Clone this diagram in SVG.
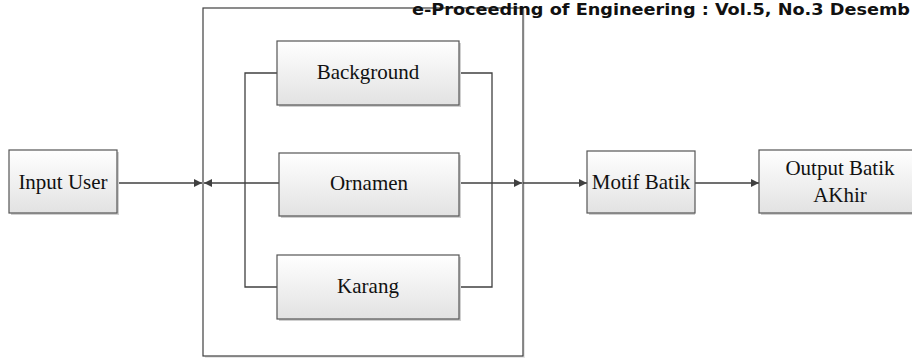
<svg xmlns="http://www.w3.org/2000/svg" width="912" height="359" viewBox="0 0 912 359">
  <defs>
    <linearGradient id="boxfill" x1="0" y1="0" x2="0" y2="1">
      <stop offset="0" stop-color="#ffffff"/>
      <stop offset="1" stop-color="#e2e2e2"/>
    </linearGradient>
    <marker id="arr" viewBox="0 0 10 10" refX="10" refY="5" markerWidth="10" markerHeight="8" markerUnits="userSpaceOnUse" orient="auto">
      <path d="M0,0 L10,5 L0,10 Z" fill="#404040"/>
    </marker>
  </defs>
  <style>
    .box { fill: url(#boxfill); stroke: #555555; stroke-width: 1.2; }
    .shadow { fill: #d0d0d0; }
    .lbl { font-family: "Liberation Serif", "Times New Roman", serif; font-size: 21px; fill: #111111; text-anchor: middle; }
    .conn { fill: none; stroke: #404040; stroke-width: 1.3; }
    .hdr { font-family: "DejaVu Sans", Verdana, sans-serif; font-weight: bold; font-size: 16px; fill: #111111; }
  </style>
  <rect width="912" height="359" fill="#ffffff"/>

  <g id="container">
    <rect x="205" y="10" width="320" height="348" fill="#e6e6e6"/>
    <rect x="203" y="8" width="320" height="348" fill="#ffffff" stroke="#404040" stroke-width="1.2"/>
  </g>

  <g id="connectors">
    <line class="conn" x1="117" y1="183" x2="202" y2="183" marker-end="url(#arr)"/>
    <line class="conn" x1="279" y1="183" x2="204" y2="183" marker-end="url(#arr)"/>
    <path class="conn" d="M277,73 H245 V287 H277"/>
    <path class="conn" d="M459,73 H492 V287 H459"/>
    <line class="conn" x1="459" y1="183" x2="522" y2="183" marker-end="url(#arr)"/>
    <line class="conn" x1="523" y1="183" x2="587" y2="183" marker-end="url(#arr)"/>
    <line class="conn" x1="695" y1="183" x2="759" y2="183" marker-end="url(#arr)"/>
  </g>

  <g id="input-user">
    <rect class="shadow" x="11" y="152" width="108" height="63"/>
    <rect class="box" x="9" y="150" width="108" height="63"/>
    <text class="lbl" x="63" y="189">Input User</text>
  </g>

  <g id="background">
    <rect class="shadow" x="279" y="43" width="182" height="64"/>
    <rect class="box" x="277" y="41" width="182" height="64"/>
    <text class="lbl" x="368" y="79">Background</text>
  </g>

  <g id="ornamen">
    <rect class="shadow" x="281" y="155" width="180" height="63"/>
    <rect class="box" x="279" y="153" width="180" height="63"/>
    <text class="lbl" x="369" y="190">Ornamen</text>
  </g>

  <g id="karang">
    <rect class="shadow" x="279" y="257" width="182" height="64"/>
    <rect class="box" x="277" y="255" width="182" height="64"/>
    <text class="lbl" x="368" y="293">Karang</text>
  </g>

  <g id="motif-batik">
    <rect class="shadow" x="589" y="153" width="106" height="62"/>
    <rect class="box" x="587" y="151" width="108" height="62"/>
    <text class="lbl" x="641" y="189">Motif Batik</text>
  </g>

  <g id="output-batik">
    <rect class="shadow" x="761" y="152" width="162" height="63"/>
    <rect class="box" x="759" y="150" width="162" height="63"/>
    <text class="lbl" x="840" y="175">Output Batik</text>
    <text class="lbl" x="840" y="202">AKhir</text>
  </g>

  <text class="hdr" x="412" y="15" textLength="498" lengthAdjust="spacingAndGlyphs">e-Proceeding of Engineering : Vol.5, No.3 Desemb</text>
</svg>
